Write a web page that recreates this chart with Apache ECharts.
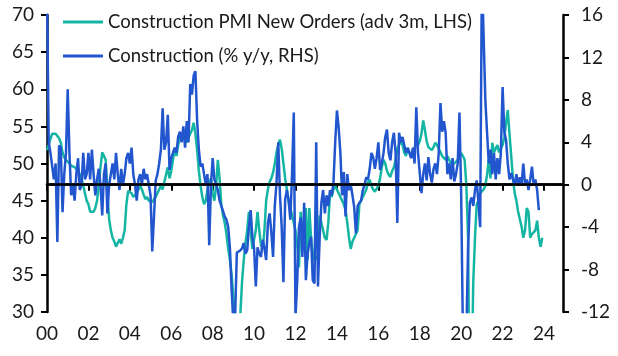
<!DOCTYPE html>
<html><head><meta charset="utf-8">
<script src="https://cdn.jsdelivr.net/npm/echarts@6/dist/echarts.min.js"></script>
<style>html,body{margin:0;padding:0;background:#fff}#c{width:618px;height:356px}</style>
</head><body><div id="c"></div>
<script>
const pmiName = 'Construction PMI New Orders (adv 3m, LHS)';
const outName = 'Construction (% y/y, RHS)';
const startYear = 2000, endYear = 2024;
const yearTickLabels = ['00','02','04','06','08','10','12','14','16','18','20','22','24'];

// Monthly, Jan 2000 - Dec 2023 (LHS)
const pmiNewOrders = [
  51.8, 52.5, 53.3, 54, 54.1, 54, 53.8, 53.4, 52.8, 51.5, 50.8, 50.5,
  50.3, 50, 49.7, 49.5, 49.5, 49.3, 49, 48.5, 48, 47, 46, 45,
  44.5, 43.5, 43.3, 43.5, 44, 45, 47, 49.5, 51.5, 51.7, 50.5, 46,
  42.5, 41, 40, 39.5, 38.8, 39.3, 39.8, 39.2, 40, 41, 44.5, 46.3,
  46.5, 46, 45.5, 45.5, 46, 46.5, 47, 46.5, 45.8, 45.2, 45.5, 45,
  45, 44.8, 45.2, 45.5, 46, 46.5, 47, 46.5, 47.5, 48.5, 49.5, 48,
  49, 50.5, 52, 51, 52.5, 53.5, 54, 54.2, 53.5, 52.8, 53.5, 54,
  54.5, 55.5, 54, 51.8, 49, 47, 45.5, 44.5, 45, 46.5, 47.5, 48,
  46, 45, 47, 50.5, 48, 44.5, 43, 42, 40.5, 38.5, 37, 35,
  32, 29, 28, 28.5, 29.5, 34, 37, 39.3, 41, 43.5, 41, 38.5,
  38.5, 41, 43.5, 41, 39, 38.5, 41, 45, 46.5, 47.5, 48, 48.8,
  50, 51.5, 52.5, 53.2, 52, 50, 48, 46.5, 45, 44, 43, 42,
  41, 39, 36, 43.5, 40, 41, 44, 37, 44, 40, 38, 37,
  37, 37.5, 43, 42, 41, 40, 39.7, 42, 46, 45.5, 46.5, 47,
  46.8, 46, 45.5, 45, 44.5, 43.7, 42, 40, 38.5, 39.5, 40, 40,
  41, 44.5, 45, 45.5, 46, 46.5, 47.5, 47.8, 47, 46.5, 46.2, 46.2,
  47, 48, 49.5, 50.5, 50, 49, 48.5, 48.2, 49, 49.5, 50.5, 52,
  52, 53, 52.5, 51.5, 51, 52, 51.5, 50.9, 51.5, 52, 53, 52.5,
  53, 54, 55.8, 54.5, 53, 52.2, 52, 51.8, 52.2, 52.8, 52.5, 52,
  51.5, 51, 50.9, 50.5, 51, 50.5, 50, 49.8, 50, 50, 50.5, 51,
  51.4, 51, 50.5, 47, 40, 14, 20, 34, 40, 44.5, 45, 46,
  46, 46.5, 47, 48.5, 50.5, 48, 52.8, 51.5, 52, 52.5, 51.5, 52,
  52.5, 53.5, 55.5, 57.2, 54, 51, 48, 46, 45, 43.5, 42.5, 41.5,
  40, 41, 44, 43.5, 40, 40.5, 40.5, 41, 42.3, 40, 38.8, 40
];

// Monthly, Jan 2000 - Oct 2023 (RHS)
const constructionYoY = [
  18, 4, 3, 3, 0.5, 2, -5.4, 3.7, 3.5, -2.6, 1, 3,
  9, 3, -1, 0, -1.5, 1, 2.5, -0.5, 0, 3, 0.5, 1,
  3, 0.5, 3.3, 1, -1, 0.5, 1.5, 0, -2.9, 1, 2, -2.7,
  0, 1, 2, 0.5, 3, 1, -0.5, 1.5, 0, 1, 2.5, 3,
  2, 3.5, 1, 0, -1.5, 0.5, 1, 0, 1.5, 0.5, 1, 0,
  -1, -6.3, -3, 0.4, 1, 2, 3.3, 7.2, 3.3, 4, 6.6, 1.4,
  2.5, 3, 3.5, 3, 4.5, 5, 4, 5.5, 3.5, 6, 4, 9.5,
  8.5, 10.3, 10.7, 6, 3.3, 1.7, 2, 1, 0, 1, -5.7, 0,
  2.5, 0.5, 0, -0.5, -1.5, -2, -2.5, -3, -3.3, -4, -6, -10,
  -13, -12.5, -6.4, -6.5, -6.2, -6, -5.5, -6.5, -6.2, -4, -2.4, -4.9,
  -6, -9.6, -5.9, -6.5, -6.8, -5.2, -6, -7.1, -3.6, -2.7, -4.5, -6.8,
  -2, 0.2, 4, -1, -4, -9.2, -1.4, -0.5, -1.5, -3.3, 1, 6.8,
  -12.5, -9, -4, -3.1, -6.8, -1.7, -9, -6.5, -5.5, -4.9, -9, -9.3,
  4, -9.6, -5, -1.7, -0.5, -2.7, -1, -2, -0.5, -1, 0.2, 4,
  7, 5.4, 3, -1, 1.2, -3, 1, -0.5, 0, -1, -2.1, -4.6,
  -2, -1.7, -1.5, -0.5, 0, 0.7, 0.5, 1.5, 3, 2.6, 1.5, 2.5,
  4, 1.4, 2, 3, 4.5, 5.2, 3, 2.3, 4, 4.9, 3, -3.6,
  4.9, 4, 4.5, 4.5, 3, 3.5, 3, 2.5, 3.5, 2, 7.3, 3,
  1.1, -0.8, 1, 2, 0.4, 2.6, 1, 0.2, 1.5, 2, 1, 3,
  7.7, 5, 6, 4.9, 1, 2, 0.5, 2.5, 0.3, 1, 2, 6.8,
  -1, -14, -20, -14, -6, -1.7, -1.2, -2, -0.5, 0.4, -1.7, -4,
  20, 20, 8, 4.9, 2, 3.3, 1, 3, 0.5, 2.5, 1, 3,
  9.2, 5, 4.2, 2, 0.5, 1.1, 0.5, 0, 1, 0, 0.7, 0,
  2, 0, 0.5, -0.5, 0.5, 1.7, 0, 0.5, -0.5, -2.4
];

const months = [];
for (let y = startYear; y <= endYear; y++) for (let m = 1; m <= 12; m++) months.push(y + '-' + String(m).padStart(2, '0'));

const FONT = 'Lato';
const TXT = '#1a1a1a';
const every2y = (i) => i % 24 === 0;

const chart = echarts.init(document.getElementById('c'), null, {renderer: 'canvas'});
chart.setOption({
  animation: false,
  backgroundColor: '#fff',
  grid: {left: 47, right: 55, top: 15, bottom: 44, containLabel: false},
  legend: {
    orient: 'vertical', left: 58, top: 6, itemGap: 12, itemWidth: 40, itemHeight: 3,
    icon: 'rect',
    textStyle: {fontFamily: FONT, fontSize: 18.5, color: TXT, lineHeight: 22},
    data: [pmiName, outName]
  },
  xAxis: {
    type: 'category', data: months, boundaryGap: false,
    axisLine: {lineStyle: {color: '#000', width: 2.5}},
    axisTick: {interval: every2y, length: 6, lineStyle: {color: '#000', width: 2}},
    axisLabel: {interval: every2y, margin: 12, fontFamily: FONT, fontSize: 19, color: TXT,
      formatter: (v, i) => yearTickLabels[i / 24] || ''},
    splitLine: {show: false}
  },
  yAxis: [
    {type: 'value', position: 'left', min: 30, max: 70, interval: 5,
      axisLine: {show: true, lineStyle: {color: '#000', width: 2.5}},
      axisTick: {show: true, length: 6, lineStyle: {color: '#000', width: 2}},
      axisLabel: {margin: 13, fontFamily: FONT, fontSize: 19, color: TXT},
      splitLine: {show: false}},
    {type: 'value', position: 'right', min: -12, max: 16, interval: 4,
      axisLine: {show: true, lineStyle: {color: '#000', width: 2.5}},
      axisTick: {show: true, length: 6, lineStyle: {color: '#000', width: 2}},
      axisLabel: {margin: 18, fontFamily: FONT, fontSize: 19, color: TXT},
      splitLine: {show: false}}
  ],
  series: [
    {name: pmiName, type: 'line', yAxisIndex: 0, data: pmiNewOrders, showSymbol: false, symbol: 'none',
      clip: true, lineStyle: {color: '#14b6a3', width: 2.5}, itemStyle: {color: '#14b6a3'}},
    {name: outName, type: 'line', yAxisIndex: 1, data: constructionYoY, showSymbol: false, symbol: 'none',
      clip: true, lineStyle: {color: '#2156cf', width: 2.5}, itemStyle: {color: '#2156cf'},
      markLine: {silent: true, symbol: 'none', label: {show: false},
        lineStyle: {color: '#000', width: 2.5, type: 'solid'}, data: [{yAxis: 0}]}}
  ]
});
</script></body></html>
